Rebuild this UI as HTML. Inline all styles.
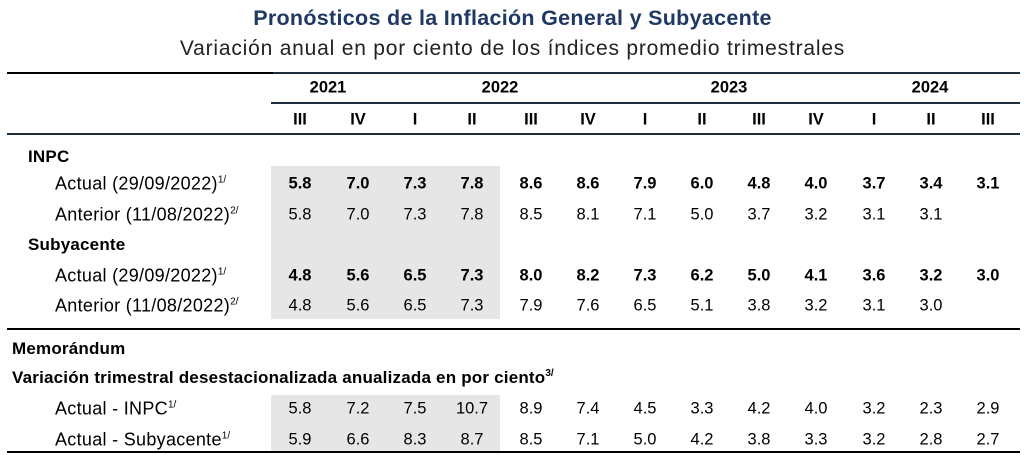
<!DOCTYPE html>
<html><head><meta charset="utf-8">
<style>
body{margin:0;width:1025px;height:455px;background:#fff;position:relative;overflow:hidden;font-family:"Liberation Sans",sans-serif;color:#000}
.a{position:absolute;white-space:nowrap}
.t{position:absolute;white-space:nowrap;transform:translate(-50%,-50%);font-size:16.5px}
.l{position:absolute;white-space:nowrap;transform:translateY(-50%);font-size:18px;letter-spacing:0.3px}
.l.h{font-size:17px;letter-spacing:0.2px}
sup{font-size:10px;vertical-align:7px;line-height:0;letter-spacing:0}
.ln{position:absolute}
</style></head><body>
<div class="a" style="left:0;width:1025px;text-align:center;top:6px;font-size:21.5px;font-weight:bold;color:#1f3864;letter-spacing:0.3px">Pronósticos de la Inflación General y Subyacente</div>
<div class="a" style="left:0;width:1025px;text-align:center;top:37px;font-size:21px;color:#222;letter-spacing:0.8px">Variación anual en por ciento de los índices promedio trimestrales</div>
<div class="ln" style="left:7px;top:72px;width:266px;height:2px;background:#000"></div>
<div class="ln" style="left:273px;top:72px;width:747px;height:2px;background:#1f2d3d"></div>
<div class="ln" style="left:271px;top:102px;width:749px;height:2px;background:#1f2d3d"></div>
<div class="ln" style="left:7px;top:133px;width:1013px;height:2px;background:#1f2d3d"></div>
<div class="ln" style="left:271px;top:166px;width:229px;height:153px;background:#e6e6e6"></div>
<div class="ln" style="left:7px;top:328px;width:1013px;height:2px;background:#000"></div>
<div class="ln" style="left:271px;top:395px;width:229px;height:57px;background:#e6e6e6"></div>
<div class="ln" style="left:7px;top:451px;width:1013px;height:2px;background:#000"></div>
<div id="c"></div>
<script>
const years=["2021","2022","2023","2024"];
const yearX=[328,500,729,930];
const quarters=["III","IV","I","II","III","IV","I","II","III","IV","I","II","III"];
const colX=[300,358,415,472,531,588,645,702,759,816,874,931,988];
const inpcActual=["5.8","7.0","7.3","7.8","8.6","8.6","7.9","6.0","4.8","4.0","3.7","3.4","3.1"];
const inpcAnterior=["5.8","7.0","7.3","7.8","8.5","8.1","7.1","5.0","3.7","3.2","3.1","3.1",""];
const subActual=["4.8","5.6","6.5","7.3","8.0","8.2","7.3","6.2","5.0","4.1","3.6","3.2","3.0"];
const subAnterior=["4.8","5.6","6.5","7.3","7.9","7.6","6.5","5.1","3.8","3.2","3.1","3.0",""];
const memInpc=["5.8","7.2","7.5","10.7","8.9","7.4","4.5","3.3","4.2","4.0","3.2","2.3","2.9"];
const memSub=["5.9","6.6","8.3","8.7","8.5","7.1","5.0","4.2","3.8","3.3","3.2","2.8","2.7"];
const c=document.getElementById('c');
function add(cls,x,y,html,bold,name){const d=document.createElement('div');d.className=cls;d.style.left=x+'px';d.style.top=y+'px';d.innerHTML=html;if(bold)d.style.fontWeight='bold';


c.appendChild(d);}
years.forEach((y,i)=>add('t',yearX[i],88,y,true,'year-'+y));
quarters.forEach((q,i)=>add('t',colX[i],120,q,true,'quarter-header'));
const rows=[
 {lab:'INPC',y:157,x:28,b:true,hdr:true},
 {lab:'Actual (29/09/2022)<sup>1/</sup>',y:184,x:55,d:inpcActual,b:true},
 {lab:'Anterior (11/08/2022)<sup>2/</sup>',y:215,x:55,d:inpcAnterior},
 {lab:'Subyacente',y:245,x:28,b:true,hdr:true},
 {lab:'Actual (29/09/2022)<sup>1/</sup>',y:276,x:55,d:subActual,b:true},
 {lab:'Anterior (11/08/2022)<sup>2/</sup>',y:306,x:55,d:subAnterior},
 {lab:'Memorándum',y:349,x:12,b:true,hdr:true},
 {lab:'Variación trimestral desestacionalizada anualizada en por ciento<sup>3/</sup>',y:378,x:12,b:true,hdr:true},
 {lab:'Actual - INPC<sup>1/</sup>',y:409,x:55,d:memInpc},
 {lab:'Actual - Subyacente<sup>1/</sup>',y:440,x:55,d:memSub}];
rows.forEach(r=>{add(r.hdr?'l h':'l',r.x,r.y,r.lab,r.hdr,'row-label');
 if(r.d) r.d.forEach((v,i)=>{if(v)add('t',colX[i],r.y,v,r.b,'cell-value');});});
</script>
</body></html>
